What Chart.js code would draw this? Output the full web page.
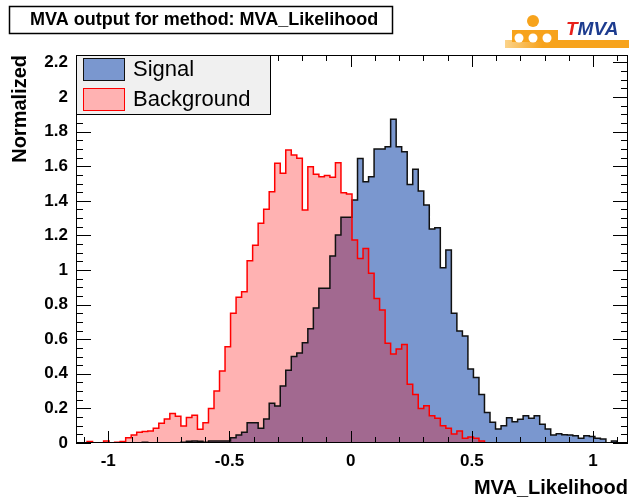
<!DOCTYPE html>
<html>
<head>
<meta charset="utf-8">
<script src="https://cdn.jsdelivr.net/npm/chart.js@4.4.0/dist/chart.umd.min.js"></script>
<style>
  html, body { margin: 0; padding: 0; background: #fff; }
  canvas { display: block; }
</style>
</head>
<body>
<canvas id="mva" width="629" height="501"></canvas>
<script>
// histogram range (100 bins)
const xMin = -1.133;
const xMax = 1.144;

const signal = [
  0, 0, 0, 0, 0, 0, 0, 0, 0, 0, 0, 0, 0.005, 0, 0, 0, 0, 0, 0, 0.005,
  0.01, 0.012, 0.01, 0.005, 0.012, 0.012, 0.012, 0.012, 0.031, 0.046, 0.062, 0.117, 0.117, 0.085, 0.139, 0.23, 0.214, 0.33, 0.42, 0.5,
  0.52, 0.58, 0.66, 0.78, 0.894, 0.894, 1.081, 1.202, 1.305, 1.305, 1.405, 1.645, 1.51, 1.539, 1.699, 1.699, 1.713, 1.871, 1.713, 1.684,
  1.495, 1.582, 1.457, 1.376, 1.237, 1.245, 1.013, 1.116, 0.75, 0.647, 0.618, 0.428, 0.378, 0.281, 0.177, 0.12, 0.081, 0.1, 0.146, 0.123,
  0.137, 0.158, 0.143, 0.158, 0.108, 0.081, 0.046, 0.054, 0.048, 0.046, 0.042, 0.027, 0.042, 0.037, 0.027, 0.023, 0, 0.012, 0, 0
];

const background = [
  0, 0, 0.008, 0, 0, 0.012, 0, 0.005, 0.008, 0.031, 0.046, 0.062, 0.066, 0.069, 0.085, 0.114, 0.139, 0.17, 0.154, 0.098,
  0.148, 0.16, 0.079, 0.117, 0.2, 0.3, 0.416, 0.557, 0.75, 0.842, 0.875, 1.054, 1.143, 1.27, 1.351, 1.453, 1.617, 1.559, 1.694, 1.665,
  1.646, 1.347, 1.597, 1.553, 1.539, 1.547, 1.536, 1.62, 1.447, 1.44, 1.173, 1.067, 1.125, 0.981, 0.836, 0.769, 0.576, 0.514, 0.543, 0.57,
  0.339, 0.281, 0.2, 0.216, 0.158, 0.143, 0.1, 0.085, 0.052, 0.069, 0.027, 0.035, 0.027, 0.012, 0, 0, 0, 0, 0, 0,
  0, 0, 0, 0, 0, 0, 0, 0, 0, 0, 0, 0, 0, 0, 0, 0, 0, 0, 0, 0
];

const xTicks = [-1, -0.5, 0, 0.5, 1];
const yTicks = [0, 0.2, 0.4, 0.6, 0.8, 1, 1.2, 1.4, 1.6, 1.8, 2, 2.2];
const yMax = 2.243;

const FONT = '"Liberation Sans", Arial, Helvetica, sans-serif';
const SIGNAL_FILL = '#7a97cf';
const SIGNAL_LINE = '#111111';
const BKG_FILL = 'rgba(255,0,0,0.3)';
const BKG_LINE = '#ff0000';

// turn bin contents into step points at the bin edges
function toSteps(vals) {
  const w = (xMax - xMin) / vals.length;
  const pts = [{ x: xMin, y: 0 }];
  vals.forEach((v, i) => pts.push({ x: xMin + i * w, y: v }));
  pts.push({ x: xMax, y: vals[vals.length - 1] });
  pts.push({ x: xMax, y: 0 });
  return pts;
}

const decorations = {
  id: 'decorations',
  afterDatasetsDraw(chart) {
    const { ctx, chartArea: a, scales: { x, y } } = chart;
    ctx.save();

    // ticks inside the frame
    ctx.strokeStyle = '#000';
    ctx.lineWidth = 1;
    ctx.beginPath();
    for (let i = -11; i <= 11; i++) {
      const v = i / 10;
      if (v < x.min || v > x.max) continue;
      const px = Math.round(x.getPixelForValue(v)) + 0.5;
      const len = i % 5 === 0 ? 12 : 6;
      ctx.moveTo(px, a.bottom); ctx.lineTo(px, a.bottom - len);
      ctx.moveTo(px, a.top); ctx.lineTo(px, a.top + len);
    }
    for (let i = 0; i * 0.05 <= y.max; i++) {
      const py = Math.round(y.getPixelForValue(i * 0.05)) + 0.5;
      const len = i % 4 === 0 ? 15 : 7;
      ctx.moveTo(a.left, py); ctx.lineTo(a.left + len, py);
      ctx.moveTo(a.right, py); ctx.lineTo(a.right - len, py);
    }
    ctx.stroke();
    ctx.strokeRect(a.left + 0.5, a.top + 0.5, a.width - 1, a.height - 1);

    // legend
    ctx.fillStyle = '#f0f0f0';
    ctx.fillRect(76, 55, 194, 59);
    ctx.strokeRect(76.5, 55.5, 194, 59);
    ctx.fillStyle = SIGNAL_FILL;
    ctx.fillRect(83, 58, 41, 22);
    ctx.strokeStyle = SIGNAL_LINE;
    ctx.strokeRect(83.5, 58.5, 41, 22);
    ctx.fillStyle = '#fff';
    ctx.fillRect(83, 88, 41, 22);
    ctx.fillStyle = BKG_FILL;
    ctx.fillRect(83, 88, 41, 22);
    ctx.strokeStyle = BKG_LINE;
    ctx.strokeRect(83.5, 88.5, 41, 22);
    ctx.fillStyle = '#000';
    ctx.font = '22px ' + FONT;
    ctx.textBaseline = 'middle';
    ctx.textAlign = 'left';
    ctx.fillText('Signal', 133, 70);
    ctx.fillText('Background', 133, 100);

    // title box
    ctx.fillStyle = '#fff';
    ctx.fillRect(9, 6, 383, 27);
    ctx.strokeStyle = '#000';
    ctx.lineWidth = 1.5;
    ctx.strokeRect(9.5, 6.5, 383, 27);
    ctx.fillStyle = '#000';
    ctx.font = 'bold 18px ' + FONT;
    ctx.fillText('MVA output for method: MVA_Likelihood', 30, 20);

    // TMVA logo
    const g = ctx.createLinearGradient(505, 0, 629, 0);
    g.addColorStop(0, '#fbd38a');
    g.addColorStop(0.3, '#f7a31c');
    g.addColorStop(1, '#f7a31c');
    ctx.fillStyle = g;
    ctx.fillRect(505, 40, 124, 8);
    ctx.fillStyle = '#f7a31c';
    ctx.beginPath(); ctx.arc(533, 21, 6, 0, Math.PI * 2); ctx.fill();
    ctx.fillRect(512, 30, 46, 12);
    ctx.fillStyle = '#fff';
    [519, 533, 547].forEach(cx => {
      ctx.beginPath(); ctx.arc(cx, 38, 4.5, 0, Math.PI * 2); ctx.fill();
    });
    ctx.font = 'italic bold 19px ' + FONT;
    ctx.fillStyle = '#e8201b';
    ctx.fillText('T', 566, 30);
    ctx.fillStyle = '#1d3c8f';
    ctx.fillText('MVA', 566 + ctx.measureText('T').width, 30);

    ctx.restore();
  }
};

new Chart(document.getElementById('mva'), {
  type: 'line',
  data: {
    datasets: [
      {
        label: 'Signal',
        data: toSteps(signal),
        stepped: 'before',
        borderColor: SIGNAL_LINE,
        borderWidth: 1.5,
        backgroundColor: SIGNAL_FILL,
        fill: 'origin',
        pointRadius: 0,
        order: 2
      },
      {
        label: 'Background',
        data: toSteps(background),
        stepped: 'before',
        borderColor: BKG_LINE,
        borderWidth: 1.5,
        backgroundColor: BKG_FILL,
        fill: 'origin',
        pointRadius: 0,
        order: 1
      }
    ]
  },
  options: {
    responsive: false,
    animation: false,
    events: [],
    layout: { padding: { top: 55, right: 1, left: 0, bottom: 0 } },
    plugins: {
      legend: { display: false },
      tooltip: { enabled: false },
      title: { display: false },
      filler: { drawTime: 'beforeDatasetsDraw' }
    },
    scales: {
      x: {
        type: 'linear',
        min: xMin,
        max: xMax,
        grid: { display: false, drawTicks: false },
        border: { display: false },
        afterBuildTicks: s => { s.ticks = xTicks.map(v => ({ value: v })); },
        afterFit: s => { s.height = 58; },
        ticks: {
          padding: 8,
          color: '#000',
          font: { family: FONT, size: 17, weight: 'bold' },
          callback: v => String(Number(v.toFixed(2)))
        },
        title: {
          display: true,
          text: 'MVA_Likelihood',
          align: 'end',
          color: '#000',
          font: { family: FONT, size: 20, weight: 'bold' },
          padding: { top: 0, bottom: 1 }
        }
      },
      y: {
        type: 'linear',
        min: 0,
        max: yMax,
        grid: { display: false, drawTicks: false },
        border: { display: false },
        afterBuildTicks: s => { s.ticks = yTicks.map(v => ({ value: v })); },
        afterFit: s => { s.width = 76; },
        ticks: {
          padding: 8,
          color: '#000',
          font: { family: FONT, size: 17, weight: 'bold' },
          callback: v => String(Number(v.toFixed(2)))
        },
        title: {
          display: true,
          text: 'Normalized',
          align: 'end',
          color: '#000',
          font: { family: FONT, size: 20, weight: 'bold' },
          padding: { top: 8, bottom: 0 }
        }
      }
    }
  },
  plugins: [decorations]
});
</script>
</body>
</html>
